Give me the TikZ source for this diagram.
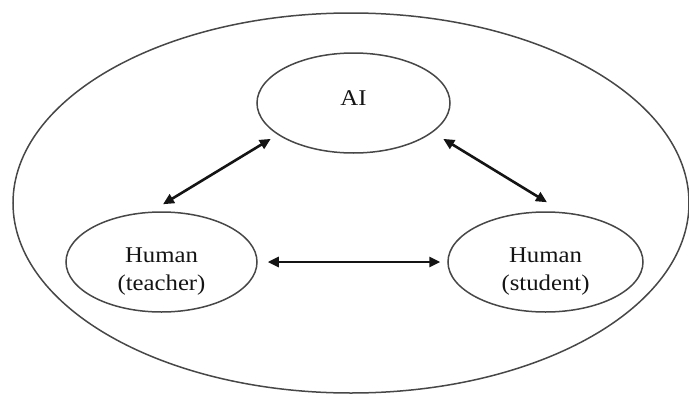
\documentclass[tikz,border=0pt]{standalone}
\usepackage{fontspec}
\setmainfont[FakeStretch=1.1]{Liberation Serif}
\usetikzlibrary{shapes.geometric,arrows.meta}

% two centred lines, first baseline on the node centre
\newcommand{\twolines}[2]{\raisebox{-14pt}[0pt][0pt]{%
  \begin{tabular}{@{}c@{}}#1\\#2\end{tabular}}}

\tikzset{
  actor/.style={ellipse, draw=black!72, line width=1.5pt, inner sep=0pt,
    align=center, font=\fontsize{22.5}{28}\selectfont, text=black!92},
  link/.style={line width=2.6pt, draw=black!92,
    {Triangle[length=11pt,width=10pt]}-{Triangle[length=11pt,width=10pt]}}
}

\begin{document}
\begin{tikzpicture}[x=1pt,y=-1pt]
  \useasboundingbox (0,0) rectangle (689,394);

  % enclosing context
  \node[ellipse, draw=black!72, line width=1.5pt, minimum width=676pt,
        minimum height=380pt, inner sep=0pt] (world) at (351,203) {};

  % participants
  \node[actor, minimum width=193pt, minimum height=100pt] (ai) at (353.5,103)
       {\raisebox{-2pt}[0pt][0pt]{AI}};
  \node[actor, minimum width=191pt, minimum height=100pt] (teacher) at (161.5,262)
       {\twolines{Human}{(teacher)}};
  \node[actor, minimum width=195pt, minimum height=100pt] (student) at (545.5,262)
       {\twolines{Human}{(student)}};

  % interactions
  \draw[link] ([xshift=1.5pt,yshift=7pt]teacher.north)
           -- ([xshift=-14pt]ai.south west);
  \draw[link] ([xshift=21pt]ai.south east)
           -- ([xshift=1.5pt,yshift=9pt]student.north);
  \draw[link] ([xshift=10pt]teacher.east) -- ([xshift=-7pt]student.west);
\end{tikzpicture}
\end{document}
